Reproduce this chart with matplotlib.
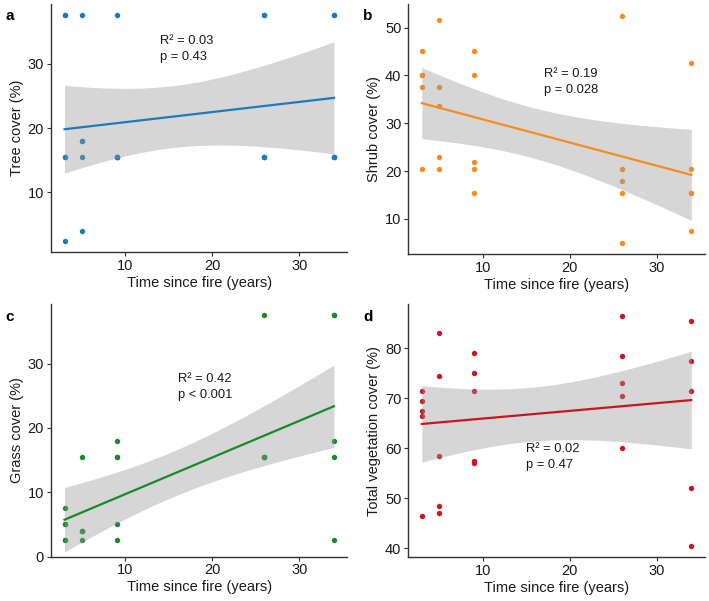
import matplotlib.pyplot as plt
import numpy as np

plt.rcParams['font.family'] = ['Liberation Sans', 'DejaVu Sans']

# time since fire (years), five plots per site, and cover values (%)
fire_x = [3] * 5 + [5] * 5 + [9] * 5 + [26] * 5 + [34] * 5

tree_y = [37.5, 37.5, 15.5, 15.5, 2.5,
          37.5, 18, 18, 15.5, 4,
          37.5, 15.5, 15.5, 15.5, 15.5,
          37.5, 37.5, 15.5, 15.5, 15.5,
          37.5, 37.5, 15.5, 15.5, 15.5]

shrub_y = [45, 40, 40, 37.5, 20.5,
           51.5, 37.5, 33.5, 23, 20.5,
           45, 40, 22, 20.5, 15.5,
           52.5, 20.5, 18, 15.5, 5,
           42.5, 20.5, 15.5, 15.5, 7.5]

grass_y = [7.5, 5, 5, 2.5, 2.5,
           15.5, 4, 4, 4, 2.5,
           18, 15.5, 15.5, 5, 2.5,
           37.5, 15.5, 15.5, 15.5, 15.5,
           37.5, 37.5, 18, 15.5, 2.5]

total_y = [71.5, 69.5, 67.5, 66.5, 46.5,
           83, 74.5, 58.5, 48.5, 47,
           79, 75, 71.5, 57.5, 57,
           86.5, 78.5, 73, 70.5, 60,
           85.5, 77.5, 71.5, 52, 40.5]

panels = [
    ("a", tree_y, "Tree cover (%)", "#1b7bbb", ["R\u00b2 = 0.03", "p = 0.43"], (14, 34.5), [10, 20, 30]),
    ("b", shrub_y, "Shrub cover (%)", "#f88b1f", ["R\u00b2 = 0.19", "p = 0.028"], (17, 41.5), [10, 20, 30, 40, 50]),
    ("c", grass_y, "Grass cover (%)", "#178a2b", ["R\u00b2 = 0.42", "p < 0.001"], (16, 28.5), [0, 10, 20, 30]),
    ("d", total_y, "Total vegetation cover (%)", "#c8171f", ["R\u00b2 = 0.02", "p = 0.47"], (15, 61), [40, 50, 60, 70, 80]),
]


def t975(df):
    try:
        from scipy import stats
        return stats.t.ppf(0.975, df)
    except ImportError:
        return {23: 2.069}.get(df, 2.1)


fig = plt.figure(figsize=(7.09, 6.01), dpi=100)
boxes = [(0.072, 0.581, 0.418, 0.412), (0.576, 0.577, 0.418, 0.416),
         (0.072, 0.074, 0.418, 0.420), (0.576, 0.073, 0.418, 0.421)]
label_pos = [(0.008, 0.985), (0.512, 0.985), (0.008, 0.485), (0.512, 0.485)]

for (lab, y, ylab, col, txt, tpos, yt), box, lp in zip(panels, boxes, label_pos):
    ax = fig.add_axes(box)
    x = np.array(fire_x, float)
    y = np.array(y, float)
    ax.scatter(x, y, s=15, color=col, zorder=2, linewidths=0)

    # linear fit with 95% confidence band (geom_smooth style)
    b, a = np.polyfit(x, y, 1)
    n = len(x)
    xs = np.linspace(x.min(), x.max(), 80)
    fit = a + b * xs
    resid = y - (a + b * x)
    s = np.sqrt(np.sum(resid ** 2) / (n - 2))
    se = s * np.sqrt(1 / n + (xs - x.mean()) ** 2 / np.sum((x - x.mean()) ** 2))
    tq = t975(n - 2)
    ax.fill_between(xs, fit - tq * se, fit + tq * se, color="#999999", alpha=0.4,
                    linewidth=0, zorder=3)
    ax.plot(xs, fit, color=col, lw=1.6, zorder=4)

    xr = x.max() - x.min()
    yr = y.max() - y.min()
    ax.set_xlim(x.min() - 0.05 * xr, x.max() + 0.05 * xr)
    ax.set_ylim(y.min() - 0.05 * yr, y.max() + 0.05 * yr)
    ax.set_xticks([10, 20, 30])
    ax.set_yticks(yt)
    ax.tick_params(labelsize=10.5, length=3, color="#333333", labelcolor="#1a1a1a", pad=2)
    ax.set_xlabel("Time since fire (years)", fontsize=10.5, color="#1a1a1a", labelpad=2)
    ax.set_ylabel(ylab, fontsize=10.5, color="#1a1a1a", labelpad=3)
    for side in ["top", "right"]:
        ax.spines[side].set_visible(False)
    for side in ["left", "bottom"]:
        ax.spines[side].set_color("#333333")
        ax.spines[side].set_linewidth(1.0)

    ax.text(tpos[0], tpos[1], txt[0] + "\n" + txt[1], fontsize=9.3, color="#1a1a1a",
            ha="left", va="top", linespacing=1.45, zorder=5)
    fig.text(lp[0], lp[1], lab, fontsize=11, fontweight="bold", ha="left", va="top")

fig.savefig("out.png", dpi=100)
